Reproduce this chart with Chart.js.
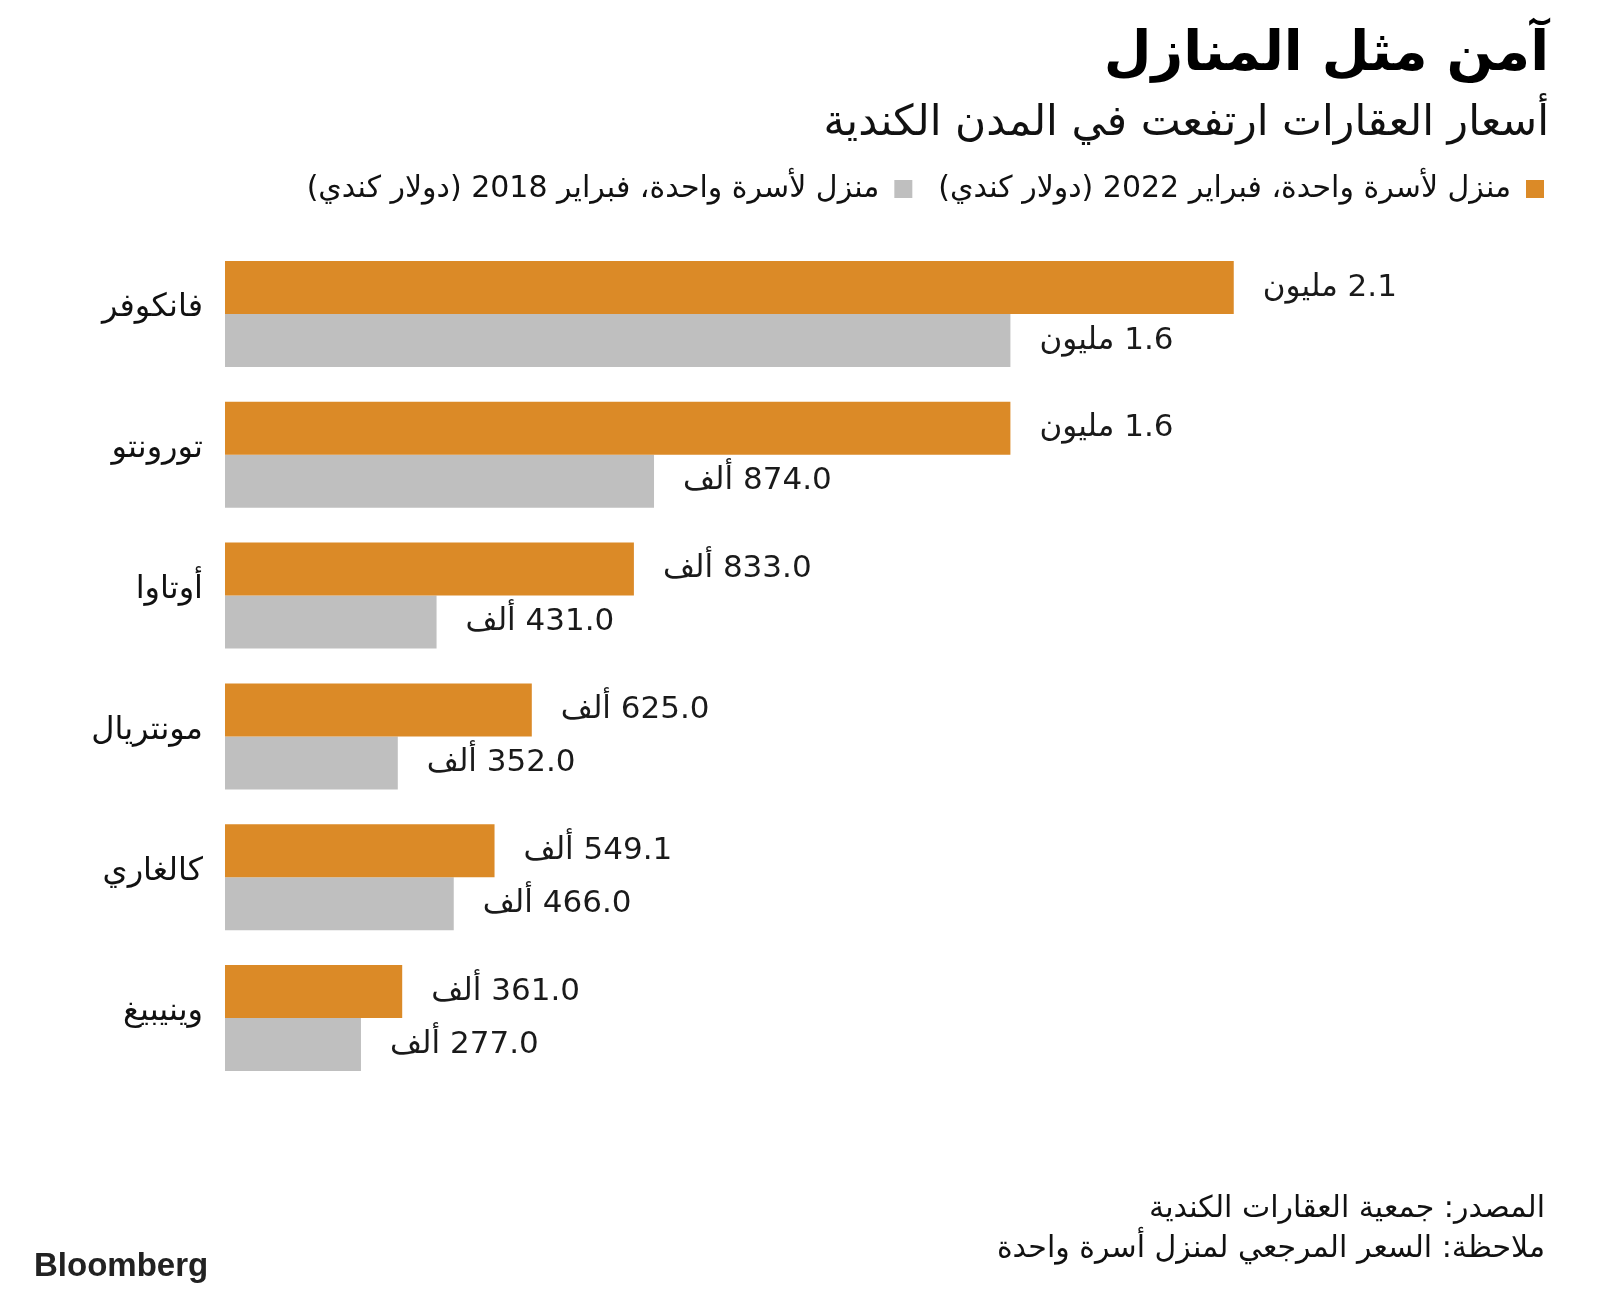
<!DOCTYPE html>
<html lang="ar">
<head>
<meta charset="utf-8">
<title>آمن مثل المنازل</title>
<script src="https://cdn.jsdelivr.net/npm/chart.js@4.4.1/dist/chart.umd.min.js"></script>
<style>
  html, body { margin: 0; padding: 0; background: #fff; }
  #wrap { width: 1600px; height: 1299px; }
</style>
</head>
<body>
<div id="wrap"><canvas id="homesChart" width="1600" height="1299" dir="rtl"></canvas></div>
<script>
const cities = ['فانكوفر', 'تورونتو', 'أوتاوا', 'مونتريال', 'كالغاري', 'وينيبيغ'];
const price2022 = [2055000, 1600000, 833000, 625000, 549100, 361000];
const price2018 = [1600000, 874000, 431000, 352000, 466000, 277000];
const seriesNames = ['منزل لأسرة واحدة، فبراير 2022 (دولار كندي)', 'منزل لأسرة واحدة، فبراير 2018 (دولار كندي)'];
const seriesColors = ['#DB8A27', '#BFBFBF'];
const titleText = 'آمن مثل المنازل';
const subtitleText = 'أسعار العقارات ارتفعت في المدن الكندية';
const footerLines = ['المصدر: جمعية العقارات الكندية', 'ملاحظة: السعر المرجعي لمنزل أسرة واحدة'];

const arabicFont = "'DejaVu Sans', sans-serif";

function formatPrice(v) {
    if (v >= 1000000) return (v / 1000000).toFixed(1) + ' مليون';
    return (v / 1000).toFixed(1) + ' ألف';
}

// title and subtitle, right aligned like the original
const header = {
    id: 'header',
    afterDraw(chart) {
        const ctx = chart.ctx;
        ctx.save();
        ctx.direction = 'rtl';
        ctx.textAlign = 'right';
        ctx.textBaseline = 'middle';
        ctx.fillStyle = '#000';
        ctx.font = 'bold 55px ' + arabicFont;
        ctx.fillText(titleText, 1549, 56);
        ctx.fillStyle = '#111';
        ctx.font = '42.5px ' + arabicFont;
        ctx.fillText(subtitleText, 1549, 124);
        ctx.restore();
    }
};

// value labels to the right of each bar
const barLabels = {
    id: 'barLabels',
    afterDatasetsDraw(chart) {
        const ctx = chart.ctx;
        ctx.save();
        ctx.font = '31px ' + arabicFont;
        ctx.fillStyle = '#1a1a1a';
        ctx.textAlign = 'left';
        ctx.textBaseline = 'middle';
        ctx.direction = 'rtl';
        chart.data.datasets.forEach((ds, i) => {
            chart.getDatasetMeta(i).data.forEach((bar, j) => {
                ctx.fillText(formatPrice(ds.data[j]), bar.x + 29, bar.y);
            });
        });
        ctx.restore();
    }
};

// source / note and logo at the bottom
const footer = {
    id: 'footer',
    afterDraw(chart) {
        const ctx = chart.ctx;
        ctx.save();
        ctx.direction = 'rtl';
        ctx.textAlign = 'right';
        ctx.textBaseline = 'middle';
        ctx.fillStyle = '#111';
        ctx.font = '30px ' + arabicFont;
        ctx.fillText(footerLines[0], 1545, 1209);
        ctx.fillText(footerLines[1], 1545, 1249);
        ctx.direction = 'ltr';
        ctx.textAlign = 'left';
        ctx.fillStyle = '#222';
        ctx.font = "bold 33px 'Liberation Sans', Arial, sans-serif";
        ctx.fillText('Bloomberg', 34, 1267);
        ctx.restore();
    }
};

const chart = new Chart(document.getElementById('homesChart'), {
    type: 'bar',
    data: {
        labels: cities,
        datasets: [
            { label: seriesNames[0], data: price2022, backgroundColor: seriesColors[0] },
            { label: seriesNames[1], data: price2018, backgroundColor: seriesColors[1] }
        ]
    },
    options: {
        indexAxis: 'y',
        responsive: false,
        animation: false,
        categoryPercentage: 0.753,
        barPercentage: 1.0,
        layout: { padding: { left: 20, right: 30, top: 148, bottom: 210.6 } },
        scales: {
            x: {
                position: 'top',
                min: 0,
                max: 2740000,
                ticks: { display: false },
                grid: { display: false },
                border: { display: false },
                afterFit(scale) { scale.height = 29.6; }
            },
            y: {
                grid: { display: false },
                border: { display: false },
                ticks: {
                    color: '#111',
                    font: { size: 32, family: arabicFont },
                    padding: 14,
                    labelOffset: -6
                },
                afterFit(scale) { scale.width = 205; }
            }
        },
        plugins: {
            tooltip: { enabled: false },
            title: { display: false },
            subtitle: { display: false },
            legend: {
                display: true,
                position: 'top',
                align: 'start',
                rtl: true,
                textDirection: 'rtl',
                labels: {
                    color: '#111',
                    font: { size: 30, family: arabicFont },
                    boxWidth: 18,
                    boxHeight: 18,
                    padding: 26
                }
            }
        }
    },
    plugins: [header, barLabels, footer]
});
</script>
</body>
</html>
